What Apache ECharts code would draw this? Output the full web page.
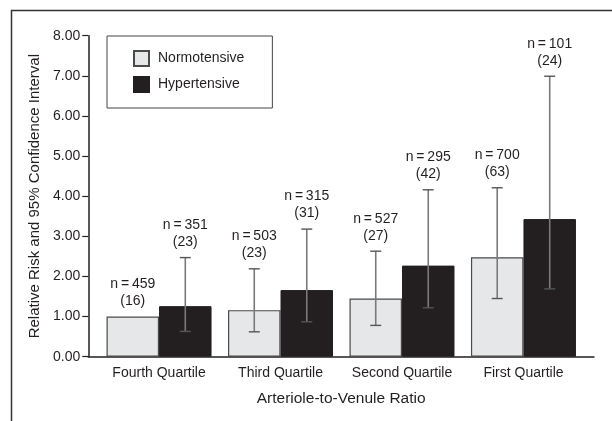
<!DOCTYPE html>
<html>
<head>
<meta charset="utf-8">
<script src="https://cdn.jsdelivr.net/npm/echarts@6/dist/echarts.min.js"></script>
<style>
html,body{margin:0;padding:0;background:#fff;}
#chart{width:612px;height:421px;}
</style>
</head>
<body>
<div id="chart"></div>
<script>
const categories = ['Fourth Quartile', 'Third Quartile', 'Second Quartile', 'First Quartile'];
const seriesNames = ['Normotensive', 'Hypertensive'];
const normoRR = [1.00, 1.16, 1.45, 2.48];
const normoLow = [null, 0.62, 0.78, 1.45];
const normoHigh = [null, 2.19, 2.63, 4.21];
const normoN = ['459', '503', '527', '700'];
const normoCases = ['16', '23', '27', '63'];
const hyperRR = [1.26, 1.66, 2.27, 3.43];
const hyperLow = [0.63, 0.87, 1.22, 1.69];
const hyperHigh = [2.47, 3.18, 4.16, 6.99];
const hyperN = ['351', '315', '295', '101'];
const hyperCases = ['23', '31', '42', '24'];
const yTicks = [0, 1, 2, 3, 4, 5, 6, 7, 8];

const FONT = '"Liberation Sans", Arial, sans-serif';
const TXT = '#231f20';
const BARW = 52.5;

function errData(rr, lo, hi, n, c, side) {
  return categories.map((_, i) => [i, rr[i], lo[i], hi[i], n[i], c[i], side]);
}

function renderErr(params, api) {
  const i = api.value(0);
  const rr = api.value(1);
  const lo = api.value(2);
  const hi = api.value(3);
  const side = api.value(6);
  const base = api.coord([i, 0]);
  const cx = base[0] + side * BARW / 2;
  const children = [];
  let topY;
  const hasCI = !(lo === null || isNaN(lo) || hi === null || isNaN(hi));
  if (hasCI) {
    const yl = api.coord([i, lo])[1];
    const yh = api.coord([i, hi])[1];
    children.push({type: 'line', shape: {x1: cx, y1: yl, x2: cx, y2: yh}, style: {stroke: '#7a7a7a', lineWidth: 1.6}});
    children.push({type: 'line', shape: {x1: cx - 5.5, y1: yl, x2: cx + 5.5, y2: yl}, style: {stroke: '#555', lineWidth: 1.4}});
    children.push({type: 'line', shape: {x1: cx - 5.5, y1: yh, x2: cx + 5.5, y2: yh}, style: {stroke: '#555', lineWidth: 1.4}});
    topY = yh;
  } else {
    topY = api.coord([i, rr])[1];
  }
  children.push({
    type: 'text',
    style: {
      text: 'n\u2009=\u2009' + api.value(4) + '\n(' + api.value(5) + ')',
      x: cx, y: topY - 7,
      align: 'center', verticalAlign: 'bottom',
      font: '14px ' + FONT, fill: TXT, lineHeight: 17
    }
  });
  return {type: 'group', children: children};
}

const chart = echarts.init(document.getElementById('chart'), null, {renderer: 'canvas'});
chart.setOption({
  animation: false,
  backgroundColor: '#fff',
  textStyle: {fontFamily: FONT, color: TXT},
  graphic: [{
    type: 'polyline',
    shape: {points: [[11.5, 421], [11.5, 10.5], [612, 10.5]]},
    style: {stroke: '#333', lineWidth: 1.5, fill: null}
  }],
  legend: {
    data: seriesNames,
    orient: 'vertical',
    left: 107, top: 36,
    padding: [14, 28, 15, 26],
    itemWidth: 15, itemHeight: 15, itemGap: 9,
    borderColor: '#444', borderWidth: 1,
    icon: 'rect',
    textStyle: {fontFamily: FONT, fontSize: 14, color: TXT, padding: [0, 0, 0, 4]}
  },
  grid: [
    {left: 98.3, right: 27.8, top: 35.7, bottom: 64.3},
    {left: 88.3, right: 18, top: 35.7, bottom: 64.3}
  ],
  xAxis: [
    {
      gridIndex: 0, type: 'category', data: categories,
      axisLine: {show: false}, axisTick: {show: false},
      axisLabel: {fontFamily: FONT, fontSize: 14, color: TXT, margin: 9, interval: 0}
    },
    {
      gridIndex: 1, type: 'value', min: 0, max: 1,
      axisLine: {show: true, lineStyle: {color: '#231f20', width: 1.5}},
      axisTick: {show: false}, axisLabel: {show: false}, splitLine: {show: false},
      name: 'Arteriole-to-Venule Ratio', nameLocation: 'middle', nameGap: 34,
      nameTextStyle: {fontFamily: FONT, fontSize: 15.5, color: TXT}
    }
  ],
  yAxis: [
    {gridIndex: 0, type: 'value', min: 0, max: 8, show: false, splitLine: {show: false}},
    {
      gridIndex: 1, type: 'value', min: 0, max: 8, interval: 1,
      axisLine: {show: true, lineStyle: {color: '#231f20', width: 1.5}},
      axisTick: {show: true, inside: false, length: 6, lineStyle: {color: '#231f20', width: 1.2}},
      splitLine: {show: false},
      axisLabel: {fontFamily: FONT, fontSize: 14, color: TXT, margin: 8,
        formatter: v => v.toFixed(2)},
      name: 'Relative Risk and 95% Confidence Interval', nameLocation: 'middle', nameGap: 41,
      nameRotate: 90,
      nameTextStyle: {fontFamily: FONT, fontSize: 15, color: TXT}
    }
  ],
  series: [
    {
      name: 'Normotensive', type: 'bar', xAxisIndex: 0, yAxisIndex: 0,
      data: normoRR, barWidth: BARW, barGap: '0%',
      itemStyle: {color: '#e6e7e9', borderColor: '#4a4a4a', borderWidth: 1.2}
    },
    {
      name: 'Hypertensive', type: 'bar', xAxisIndex: 0, yAxisIndex: 0,
      data: hyperRR, barWidth: BARW, barGap: '0%',
      itemStyle: {color: '#231f20', borderColor: '#231f20', borderWidth: 1}
    },
    {
      type: 'custom', xAxisIndex: 0, yAxisIndex: 0, z: 5,
      renderItem: renderErr, data: errData(normoRR, normoLow, normoHigh, normoN, normoCases, -1),
      silent: true
    },
    {
      type: 'custom', xAxisIndex: 0, yAxisIndex: 0, z: 5,
      renderItem: renderErr, data: errData(hyperRR, hyperLow, hyperHigh, hyperN, hyperCases, 1),
      silent: true
    }
  ]
});
</script>
</body>
</html>
